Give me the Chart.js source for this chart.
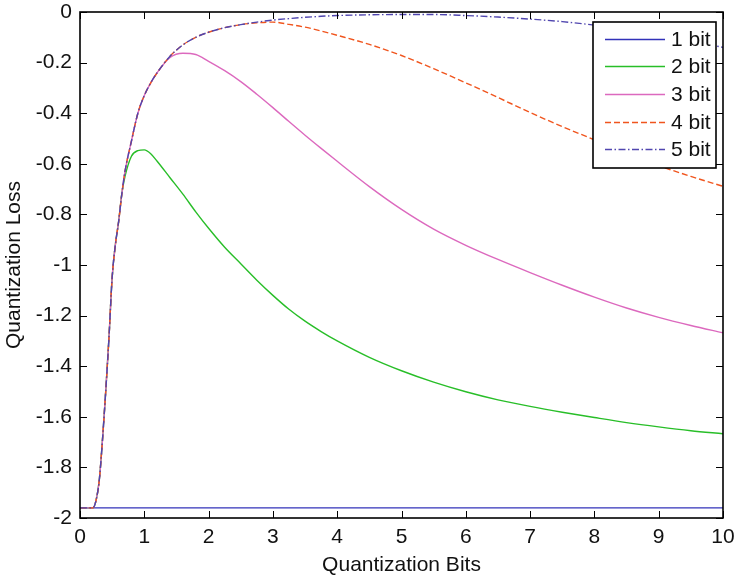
<!DOCTYPE html>
<html>
<head>
<meta charset="utf-8">
<script src="https://cdn.jsdelivr.net/npm/chart.js@4.4.1/dist/chart.umd.min.js"></script>
<style>
  html, body { margin: 0; padding: 0; background: #fff; }
  canvas { display: block; }
</style>
</head>
<body>
<canvas id="chart" width="737" height="580"></canvas>
<script>
// quantization bits (x) shared by the 2..5 bit curves
const bits = [0, 0.2, 0.25, 0.3, 0.35, 0.4, 0.45, 0.5, 0.55, 0.6,
              0.65, 0.7, 0.8, 0.9, 1.0, 1.1, 1.2, 1.4, 1.6, 1.8,
              2.0, 2.25, 2.5, 2.75, 3.0, 3.25, 3.5, 3.75, 4.0, 4.5,
              5.0, 5.5, 6.0, 6.5, 7.0, 7.5, 8.0, 8.5, 9.0, 9.5, 10];

const bits_1 = [0, 10];
const loss_1 = [-1.96, -1.96];

const loss_2 = [-1.96, -1.96, -1.93, -1.85, -1.69, -1.50, -1.29, -1.05, -0.92, -0.83,
                -0.72, -0.65, -0.57, -0.548, -0.545, -0.56, -0.59, -0.655, -0.72, -0.79,
                -0.855, -0.93, -0.995, -1.06, -1.12, -1.175, -1.222, -1.263, -1.30, -1.365,
                -1.418, -1.463, -1.501, -1.533, -1.559, -1.582, -1.603, -1.623, -1.64, -1.655, -1.667];

const loss_3 = [-1.96, -1.96, -1.93, -1.85, -1.69, -1.50, -1.29, -1.05, -0.92, -0.83,
                -0.72, -0.63, -0.51, -0.40, -0.33, -0.28, -0.24, -0.18, -0.163, -0.168,
                -0.195, -0.232, -0.275, -0.325, -0.378, -0.433, -0.487, -0.539, -0.59, -0.69,
                -0.78, -0.858, -0.922, -0.978, -1.03, -1.08, -1.127, -1.17, -1.207, -1.239, -1.268];

const loss_4 = [-1.96, -1.96, -1.93, -1.85, -1.69, -1.50, -1.29, -1.05, -0.92, -0.83,
                -0.72, -0.63, -0.51, -0.40, -0.33, -0.28, -0.24, -0.175, -0.13, -0.10,
                -0.08, -0.062, -0.05, -0.043, -0.04, -0.049, -0.06, -0.075, -0.092, -0.128,
                -0.172, -0.224, -0.28, -0.338, -0.397, -0.453, -0.505, -0.558, -0.607, -0.65, -0.689];

const loss_5 = [-1.96, -1.96, -1.93, -1.85, -1.69, -1.50, -1.29, -1.05, -0.92, -0.83,
                -0.72, -0.63, -0.51, -0.40, -0.33, -0.28, -0.24, -0.175, -0.13, -0.10,
                -0.08, -0.062, -0.05, -0.04, -0.032, -0.026, -0.021, -0.017, -0.014, -0.011,
                -0.01, -0.01, -0.014, -0.02, -0.028, -0.038, -0.052, -0.07, -0.09, -0.114, -0.14];

const series_names = ['1 bit', '2 bit', '3 bit', '4 bit', '5 bit'];

const FONT = "'Liberation Sans', Arial, Helvetica, sans-serif";

function pts(xs, ys) {
    return xs.map(function (x, i) { return {x: x, y: ys[i]}; });
}

function series(label, xs, ys, color, dash, order) {
    return {
        label: label,
        data: pts(xs, ys),
        borderColor: color,
        backgroundColor: color,
        borderWidth: 1.4,
        borderDash: dash,
        pointRadius: 0,
        cubicInterpolationMode: 'monotone',
        fill: false,
        order: order
    };
}

// box, inward ticks and legend, matlab style
const frame = {
    id: 'frame',
    afterDatasetsDraw(chart) {
        const ctx = chart.ctx;
        const a = chart.chartArea;
        const xs = chart.scales.x, ys = chart.scales.y;
        const tl = 7;
        ctx.save();
        ctx.strokeStyle = '#000';
        ctx.lineWidth = 1;
        ctx.setLineDash([]);
        ctx.beginPath();
        xs.ticks.forEach(function (t) {
            const px = Math.round(xs.getPixelForValue(t.value)) + 0.5;
            ctx.moveTo(px, a.bottom); ctx.lineTo(px, a.bottom - tl);
            ctx.moveTo(px, a.top); ctx.lineTo(px, a.top + tl);
        });
        ys.ticks.forEach(function (t) {
            const py = Math.round(ys.getPixelForValue(t.value)) + 0.5;
            ctx.moveTo(a.left, py); ctx.lineTo(a.left + tl, py);
            ctx.moveTo(a.right, py); ctx.lineTo(a.right - tl, py);
        });
        ctx.stroke();
        ctx.lineWidth = 1.6;
        ctx.strokeRect(a.left, a.top, a.right - a.left, a.bottom - a.top);

        // legend
        const lx = 593, ly = 22, lw = 123, lh = 146;
        ctx.fillStyle = '#fff';
        ctx.fillRect(lx, ly, lw, lh);
        ctx.lineWidth = 1.6;
        ctx.strokeRect(lx, ly, lw, lh);
        ctx.font = '21px ' + FONT;
        ctx.textBaseline = 'middle';
        ctx.textAlign = 'left';
        chart.data.datasets.forEach(function (ds, i) {
            const y = Math.round(ly + 16.5 + i * 27.7) + 0.5;
            ctx.strokeStyle = ds.borderColor;
            ctx.lineWidth = ds.borderWidth;
            ctx.setLineDash(ds.borderDash);
            ctx.beginPath();
            ctx.moveTo(605, y); ctx.lineTo(665, y);
            ctx.stroke();
            ctx.setLineDash([]);
            ctx.fillStyle = '#111';
            ctx.fillText(ds.label, 671, y + 1);
        });
        ctx.restore();
    }
};

const ctx = document.getElementById('chart').getContext('2d');
const chart = new Chart(ctx, {
    type: 'line',
    data: {
        datasets: [
            series(series_names[0], bits_1, loss_1, 'rgb(50, 50, 185)', [], 5),
            series(series_names[1], bits, loss_2, 'rgb(40, 190, 40)', [], 4),
            series(series_names[2], bits, loss_3, 'rgb(220, 105, 190)', [], 3),
            series(series_names[3], bits, loss_4, 'rgb(240, 85, 30)', [6, 3], 2),
            series(series_names[4], bits, loss_5, 'rgb(80, 70, 175)', [7, 2.5, 1.5, 2.5], 1)
        ]
    },
    options: {
        responsive: false,
        animation: false,
        devicePixelRatio: 1,
        layout: {padding: {left: 0, right: 14, top: 12, bottom: 0}},
        plugins: {
            legend: {display: false},
            tooltip: {enabled: false}
        },
        scales: {
            x: {
                type: 'linear',
                min: 0,
                max: 10,
                grid: {display: false, drawTicks: false},
                border: {display: false},
                ticks: {
                    stepSize: 1,
                    padding: 7,
                    color: '#111',
                    font: {family: FONT, size: 21}
                },
                title: {
                    display: true,
                    text: 'Quantization Bits',
                    color: '#111',
                    font: {family: FONT, size: 21},
                    padding: {top: 0, bottom: 2}
                },
                afterFit: function (scale) {
                    scale.height = 62;
                    scale.paddingLeft = 0;
                    scale.paddingRight = 0;
                }
            },
            y: {
                min: -2,
                max: 0,
                grid: {display: false, drawTicks: false},
                border: {display: false},
                ticks: {
                    stepSize: 0.2,
                    padding: 8,
                    color: '#111',
                    font: {family: FONT, size: 21},
                    callback: function (v) { return String(Math.round(v * 10) / 10); }
                },
                title: {
                    display: true,
                    text: 'Quantization Loss',
                    color: '#111',
                    font: {family: FONT, size: 21},
                    padding: {top: 2, bottom: 0}
                },
                afterFit: function (scale) {
                    scale.width = 80;
                    scale.paddingTop = 0;
                    scale.paddingBottom = 0;
                }
            }
        }
    },
    plugins: [frame]
});
</script>
</body>
</html>
